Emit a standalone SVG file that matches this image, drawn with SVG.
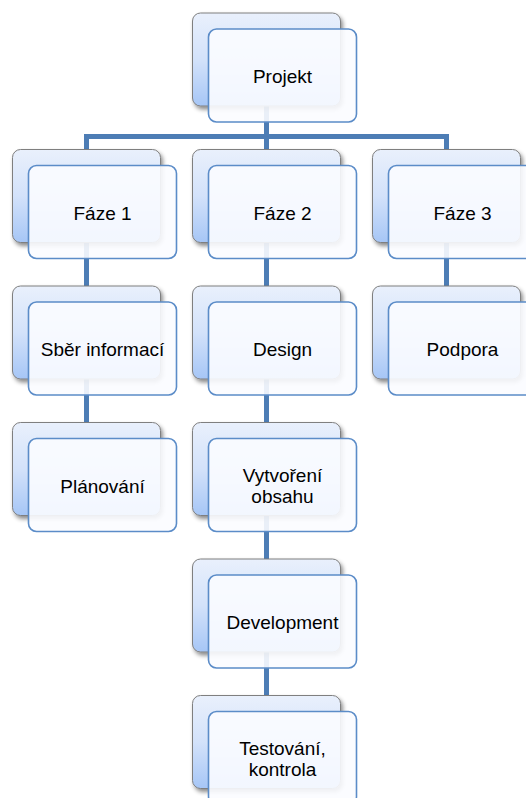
<svg xmlns="http://www.w3.org/2000/svg" width="526" height="798" viewBox="0 0 526 798">
<defs>
<linearGradient id="bg" x1="0" y1="0" x2="0" y2="1">
<stop offset="0" stop-color="#e9f0fc"/>
<stop offset="0.5" stop-color="#d3e2fa"/>
<stop offset="1" stop-color="#a6c6f6"/>
</linearGradient>
<filter id="sh" x="-10%" y="-10%" width="125%" height="130%">
<feDropShadow dx="2" dy="3" stdDeviation="2" flood-color="#000" flood-opacity="0.45"/>
</filter>
<style>
.back{fill:url(#bg);stroke:#7f7f7f;stroke-width:1;filter:url(#sh)}
.front{fill:#fbfcff;fill-opacity:0.9;stroke:#5b8cc8;stroke-width:1.6}
.conn{fill:none;stroke:#4d7db5;stroke-width:5;stroke-linejoin:miter;stroke-linecap:butt}
text{font-family:"Liberation Sans",Arial,sans-serif;font-size:19px;fill:#000;text-anchor:middle}
</style>
</defs>
<rect width="526" height="798" fill="#fff"/>
<g id="connectors">
<path class="conn" d="M266.5 60 V136.5"/>
<path class="conn" d="M86.5 149.5 V136.5 H446.5 V149.5"/>
<path class="conn" d="M86.5 149.5 V422.5"/>
<path class="conn" d="M266.5 136.5 V695.5"/>
<path class="conn" d="M446.5 149.5 V286"/>
</g>
<g id="projekt">
<rect class="back" x="192.5" y="13" width="148" height="93" rx="8"/>
<rect class="front" x="208.5" y="29" width="148" height="93" rx="8"/>
<text x="282.5" y="83">Projekt</text>
</g>
<g id="faze1">
<rect class="back" x="12.5" y="149.5" width="148" height="93" rx="8"/>
<rect class="front" x="28.5" y="165.5" width="148" height="93" rx="8"/>
<text x="102.5" y="219.5">Fáze 1</text>
</g>
<g id="faze2">
<rect class="back" x="192.5" y="149.5" width="148" height="93" rx="8"/>
<rect class="front" x="208.5" y="165.5" width="148" height="93" rx="8"/>
<text x="282.5" y="219.5">Fáze 2</text>
</g>
<g id="faze3">
<rect class="back" x="372.5" y="149.5" width="148" height="93" rx="8"/>
<rect class="front" x="388.5" y="165.5" width="148" height="93" rx="8"/>
<text x="462.5" y="219.5">Fáze 3</text>
</g>
<g id="sber">
<rect class="back" x="12.5" y="286" width="148" height="93" rx="8"/>
<rect class="front" x="28.5" y="302" width="148" height="93" rx="8"/>
<text x="102.5" y="356">Sběr informací</text>
</g>
<g id="design">
<rect class="back" x="192.5" y="286" width="148" height="93" rx="8"/>
<rect class="front" x="208.5" y="302" width="148" height="93" rx="8"/>
<text x="282.5" y="356">Design</text>
</g>
<g id="podpora">
<rect class="back" x="372.5" y="286" width="148" height="93" rx="8"/>
<rect class="front" x="388.5" y="302" width="148" height="93" rx="8"/>
<text x="462.5" y="356">Podpora</text>
</g>
<g id="planovani">
<rect class="back" x="12.5" y="422.5" width="148" height="93" rx="8"/>
<rect class="front" x="28.5" y="438.5" width="148" height="93" rx="8"/>
<text x="102.5" y="492.5">Plánování</text>
</g>
<g id="vytvoreni">
<rect class="back" x="192.5" y="422.5" width="148" height="93" rx="8"/>
<rect class="front" x="208.5" y="438.5" width="148" height="93" rx="8"/>
<text x="282.5" y="481.5">Vytvoření</text>
<text x="282.5" y="503">obsahu</text>
</g>
<g id="development">
<rect class="back" x="192.5" y="559" width="148" height="93" rx="8"/>
<rect class="front" x="208.5" y="575" width="148" height="93" rx="8"/>
<text x="282.5" y="628.5">Development</text>
</g>
<g id="testovani">
<rect class="back" x="192.5" y="695.5" width="148" height="93" rx="8"/>
<rect class="front" x="208.5" y="711.5" width="148" height="93" rx="8"/>
<text x="282.5" y="754.5">Testování,</text>
<text x="282.5" y="776">kontrola</text>
</g>
</svg>
